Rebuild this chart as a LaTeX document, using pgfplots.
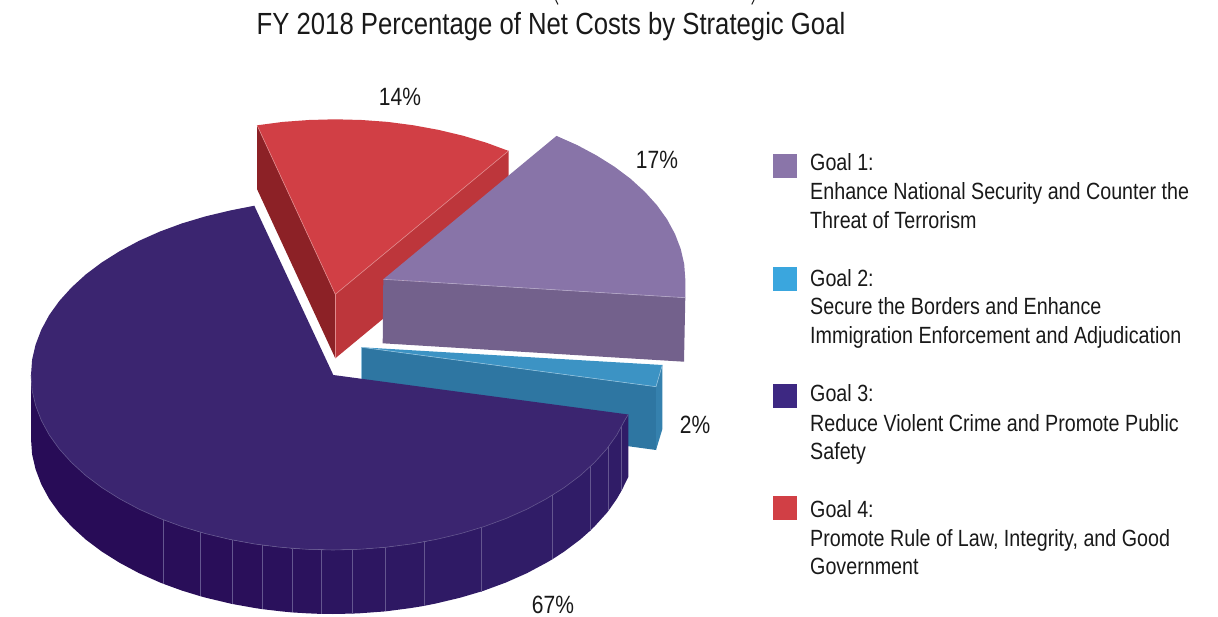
\documentclass[border=0pt]{standalone}
\usepackage{pgfplots}
\pgfplotsset{compat=1.18}
\usepackage{fontspec}
\setmainfont[FakeStretch=0.84]{Liberation Sans}
\definecolor{redtop}{HTML}{D13F45}
\definecolor{redleft}{HTML}{8C2126}
\definecolor{redright}{HTML}{BD363B}
\definecolor{redline}{HTML}{E08A8C}
\definecolor{purptop}{HTML}{8874A8}
\definecolor{purpwall}{HTML}{73618C}
\definecolor{purpline}{HTML}{B3A6C6}
\definecolor{bluetop}{HTML}{3C93C4}
\definecolor{bluewall}{HTML}{2E76A2}
\definecolor{blueside}{HTML}{3581AE}
\definecolor{blueline}{HTML}{8FC0DC}
\definecolor{bigtop}{HTML}{3B2570}
\definecolor{wallL}{HTML}{280C57}
\definecolor{wallR}{HTML}{301C67}
\definecolor{bigline}{HTML}{64568F}
\definecolor{keypurple}{HTML}{8A75A9}
\definecolor{keyblue}{HTML}{3AA6DE}
\definecolor{keyindigo}{HTML}{3D2882}
\definecolor{keyred}{HTML}{D13F45}
% one polygon of the pie, filled without an outline
\newcommand{\face}[2]{\addplot[fill=#1,draw=none,forget plot] coordinates {#2} -- cycle;}
% one thin line of the pie
\newcommand{\edge}[2]{\addplot[color=#1,line width=0.6pt,forget plot] coordinates {#2};}
\newcommand{\legline}[2]{\node[anchor=base west,inner sep=0pt,text=black!90] at (axis cs:810,#1) {\fontsize{23.45}{23.45}\selectfont #2};}
\newcommand{\pct}[3]{\node[anchor=base,inner sep=0pt,text=black!90] at (axis cs:#1,#2) {\fontsize{25}{25}\selectfont #3};}
\begin{document}
\begin{tikzpicture}
\useasboundingbox (0,0) rectangle (1218pt,617pt);
\begin{axis}[
  at={(0,0)}, anchor=south west,
  scale only axis, width=1218pt, height=617pt,
  xmin=0, xmax=1218, ymin=0, ymax=617, y dir=reverse,
  hide axis, clip=true,
]
% Goal 4 slice
\face{redright}{(335.3,294.3)(508.5,150.9)(508.5,215)(335.3,358.3)}
\face{redleft}{(257.1,125.3)(335.3,294.3)(335.3,358.3)(257.1,189.3)}
\face{redtop}{(335.3,294.3)(257.1,125.3)(282.9,121.9)(309.0,120.0)(335.3,119.3)(361.6,120.0)(387.7,121.9)(413.5,125.3)(438.6,129.9)(462.9,135.7)(486.3,142.7)(508.5,150.9)}
\edge{redline}{(257.1,125.3)(335.3,294.3)(508.5,150.9)}
\edge{redline}{(335.3,294.3)(335.3,358.3)}
% Goal 1 slice
\face{purpwall}{(383.3,279.3)(685.3,297.7)(684,361.7)(382.7,343.3)}
\face{purptop}{(383.3,279.3)(556.5,135.9)(577.4,145.2)(596.8,155.6)(614.6,166.8)(630.7,178.9)(644.8,191.8)(657.0,205.3)(667.1,219.4)(675.0,234.0)(680.7,248.9)(684.2,264.0)(685.3,279.3)(685.3,297.7)}
\edge{purpline}{(383.3,279.3)(685.3,297.7)}
% Goal 2 slice
\face{bluewall}{(361.7,347.3)(656,386.7)(656,450)(361.7,410)}
\face{blueside}{(662.3,365)(656,386.7)(656,450)(662.3,429.3)}
\face{bluetop}{(361.7,347.3)(662.3,365)(656,386.7)}
\edge{blueline}{(361.7,347.3)(656,386.7)(662.3,365)}
\edge{blueline}{(361.7,347.3)(361.7,380)}
% Goal 3 slice: side wall, one panel at a time
\face{wallL}{(31,375)(31,439)(32.1,454.3)(35.6,469.4)(41.3,484.3)(49.2,498.9)(59.3,513)(71.5,526.5)(85.6,539.4)(101.7,551.5)(119.5,562.7)(138.9,573.1)(159.8,582.4)(163.3,583.8)(163.3,519.8)}
\face{wallR!10!wallL}{(163.3,519.8)(163.3,583.8)(182,590.6)(200,596.1)(200,532.1)}
\face{wallR!15!wallL}{(200,532.1)(200,596.1)(205.4,597.6)(229.7,603.4)(231.8,603.9)(231.8,539.9)}
\face{wallR!20!wallL}{(231.8,539.9)(231.8,603.9)(254.8,608)(262,609.1)(262,545.1)}
\face{wallR!30!wallL}{(262,545.1)(262,609.1)(280.6,611.3)(292,612.4)(292,548.4)}
\face{wallR!40!wallL}{(292,548.4)(292,612.4)(306.7,613.3)(320.8,613.9)(320.8,549.9)}
\face{wallR!55!wallL}{(320.8,549.9)(320.8,613.9)(333,614)(352.2,613.6)(352.2,549.6)}
\face{wallR!65!wallL}{(352.2,549.6)(352.2,613.6)(359.3,613.3)(385.3,611.4)(385.3,547.4)}
\face{wallR!75!wallL}{(385.3,547.4)(385.3,611.4)(411.2,608)(424.5,605.8)(424.5,541.8)}
\face{wallR!85!wallL}{(424.5,541.8)(424.5,605.8)(436.3,603.4)(460.6,597.6)(481.2,591.5)(481.2,527.5)}
\face{wallR}{(481.2,527.5)(481.2,591.5)(484,590.6)(506.2,582.4)(527.1,573.1)(546.5,562.7)(552.2,559.4)(552.2,495.4)}
\face{wallR}{(552.2,495.4)(552.2,559.4)(564.3,551.5)(580.4,539.4)(590.2,530.7)(590.2,466.7)}
\face{wallR}{(590.2,466.7)(590.2,530.7)(594.5,526.5)(606.7,513)(608.6,510.6)(608.6,446.6)}
\face{wallR}{(608.6,446.6)(608.6,510.6)(616.8,498.9)(621.6,490.6)(621.6,426.6)}
\face{wallR}{(621.6,426.6)(621.6,490.6)(624.7,484.3)(628.3,477)(628.3,414.5)}
% panel seams
\edge{bigline}{(163.3,519.8)(163.3,583.8)}
\edge{bigline}{(200,532.1)(200,596.1)}
\edge{bigline}{(231.8,539.9)(231.8,603.9)}
\edge{bigline}{(262,545.1)(262,609.1)}
\edge{bigline}{(292,548.4)(292,612.4)}
\edge{bigline}{(320.8,549.9)(320.8,613.9)}
\edge{bigline}{(352.2,549.6)(352.2,613.6)}
\edge{bigline}{(385.3,547.4)(385.3,611.4)}
\edge{bigline}{(424.5,541.8)(424.5,605.8)}
\edge{bigline}{(481.2,527.5)(481.2,591.5)}
\edge{bigline}{(552.2,495.4)(552.2,559.4)}
\edge{bigline}{(590.2,466.7)(590.2,530.7)}
\edge{bigline}{(608.6,446.6)(608.6,510.6)}
\edge{bigline}{(621.6,426.6)(621.6,490.6)}
% Goal 3 slice: top face
\face{bigtop}{(333.3,375)(628.3,414.5)(624.7,420.3)(616.8,434.9)(606.7,449.0)(594.5,462.5)(580.4,475.4)(564.3,487.5)(546.5,498.7)(527.1,509.1)(506.2,518.4)(484.0,526.6)(460.6,533.6)(436.3,539.4)(411.2,544.0)(385.4,547.3)(359.3,549.3)(333,550)(306.7,549.3)(280.6,547.3)(254.8,544.0)(229.7,539.4)(205.4,533.6)(182.0,526.6)(159.8,518.4)(138.9,509.1)(119.5,498.7)(101.7,487.5)(85.6,475.4)(71.5,462.5)(59.3,449.0)(49.2,434.9)(41.3,420.3)(35.6,405.4)(32.1,390.3)(31,375)(32.1,359.7)(35.6,344.6)(41.3,329.7)(49.2,315.1)(59.3,301.0)(71.5,287.5)(85.6,274.6)(101.7,262.5)(119.5,251.3)(138.9,240.9)(159.8,231.6)(182.0,223.4)(205.4,216.4)(229.7,210.6)(254.3,205.7)}
\edge{bigline}{(628.3,414.5)(624.7,420.3)(616.8,434.9)(606.7,449.0)(594.5,462.5)(580.4,475.4)(564.3,487.5)(546.5,498.7)(527.1,509.1)(506.2,518.4)(484.0,526.6)(460.6,533.6)(436.3,539.4)(411.2,544.0)(385.4,547.3)(359.3,549.3)(333,550)(306.7,549.3)(280.6,547.3)(254.8,544.0)(229.7,539.4)(205.4,533.6)(182.0,526.6)(159.8,518.4)(138.9,509.1)(119.5,498.7)(101.7,487.5)(85.6,475.4)(71.5,462.5)(59.3,449.0)(49.2,434.9)(41.3,420.3)(35.6,405.4)(32.1,390.3)(31,375)}
% legend keys
\face{keypurple}{(773,154)(797,154)(797,178)(773,178)}
\face{keyblue}{(773,267)(797,267)(797,291)(773,291)}
\face{keyindigo}{(773,384)(797,384)(797,408)(773,408)}
\face{keyred}{(773,496)(797,496)(797,520)(773,520)}
% tail of the line above the title, cut off at the page edge
\addplot[color=black!90,line width=1pt,forget plot] coordinates {(555.8,0)(558,4.5)};
\addplot[color=black!90,line width=1pt,forget plot] coordinates {(754,0)(751.8,4.5)};
% title
\node[anchor=base,inner sep=0pt,text=black!90] at (axis cs:551,34.5) {\fontsize{30.6}{30.6}\selectfont FY 2018 Percentage of Net Costs by Strategic Goal};
% slice labels
\pct{400}{106}{14\%}
\pct{657}{169}{17\%}
\pct{695}{433}{2\%}
\pct{553}{613}{67\%}
% legend text
\legline{171}{Goal 1:}
\legline{199.5}{Enhance National Security and Counter the}
\legline{228.3}{Threat of Terrorism}
\legline{286.7}{Goal 2:}
\legline{315}{Secure the Borders and Enhance}
\legline{343.3}{Immigration Enforcement and Adjudication}
\legline{402}{Goal 3:}
\legline{431}{Reduce Violent Crime and Promote Public}
\legline{459.5}{Safety}
\legline{517}{Goal 4:}
\legline{546}{Promote Rule of Law, Integrity, and Good}
\legline{574.5}{Government}
\end{axis}
\end{tikzpicture}
\end{document}
